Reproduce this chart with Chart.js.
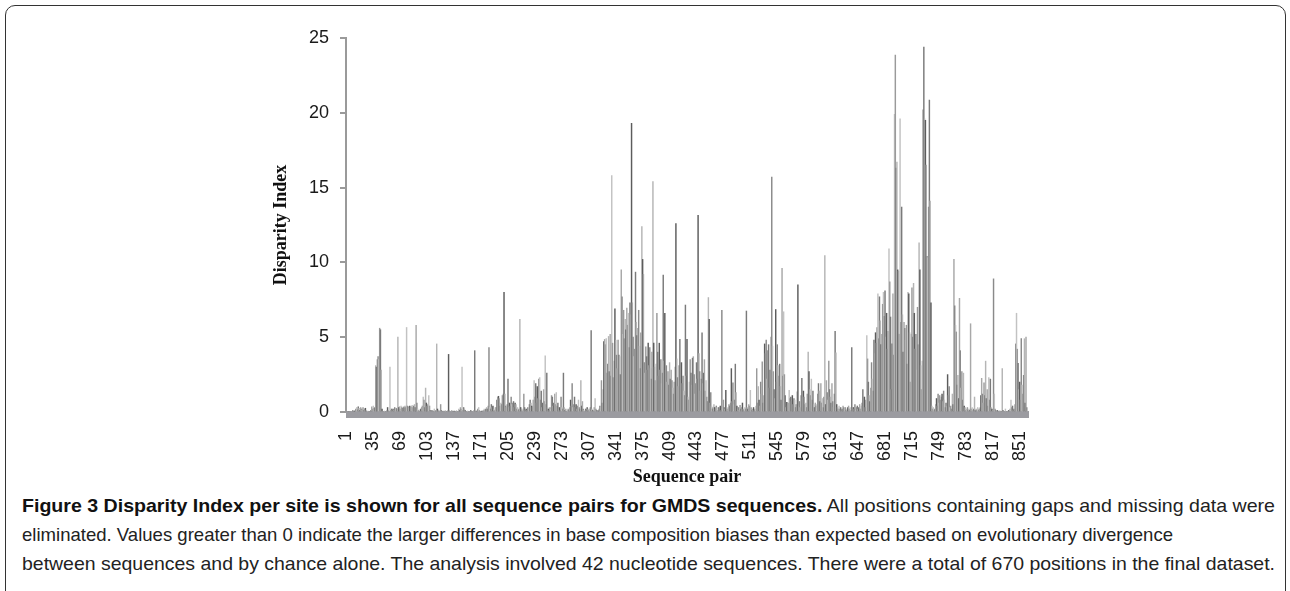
<!DOCTYPE html>
<html>
<head>
<meta charset="utf-8">
<script src="https://cdn.jsdelivr.net/npm/chart.js@4"></script>
<style>
  body { margin: 0; background: #fff; width: 1290px; height: 591px; overflow: hidden; position: relative; }
  #frame { position: absolute; left: 5px; top: 5px; width: 1279px; height: 640px; border: 1px solid #333; border-radius: 10px; }
  #wrap { position: absolute; left: 0; top: 0; width: 1290px; height: 490px; }
  .cap { position: absolute; left: 22px; white-space: nowrap; transform-origin: 0 0;
         font-family: "Liberation Sans Narrow", "Liberation Sans", Arial, sans-serif; font-size: 19px; color: #222; }
  .cap b { font-weight: bold; color: #111; }
</style>
</head>
<body>
<div id="frame"></div>
<div id="wrap"><canvas id="barChart" width="1290" height="490"></canvas></div>
<div class="cap" id="c1" data-w="1253" style="top:495px"><b>Figure 3 Disparity Index per site is shown for all sequence pairs for GMDS sequences.</b> All positions containing gaps and missing data were</div>
<div class="cap" id="c2" data-w="1151" style="top:524px">eliminated. Values greater than 0 indicate the larger differences in base composition biases than expected based on evolutionary divergence</div>
<div class="cap" id="c3" data-w="1253" style="top:553px">between sequences and by chance alone. The analysis involved 42 nucleotide sequences. There were a total of 670 positions in the final dataset.</div>
<script>
// disparity index, one value per sequence pair (1..861)
const disparity = [
  0, 0, 0, 0, 0, 0, 0, 0, 0.1, 0, 0.05, 0.1, 0.2, 0.3, 0.15, 0.35, 0.25, 0.1, 0.3, 0.2,
  0.15, 0.3, 0.1, 0.2, 0.25, 0.1, 0, 0.05, 0, 0, 0, 0.1, 0.35, 0.2, 0.4, 0.25, 0.3, 3.1, 3.0, 3.5,
  3.7, 3.5, 5.6, 5.5, 2.8, 0.2, 0, 0, 0.05, 0, 0, 0.1, 0.3, 0.1, 0, 3.0, 0.1, 0.2, 0.1, 0.2,
  0.15, 0.3, 0.1, 0.25, 0.2, 5.0, 0.3, 0.35, 0.2, 0.4, 0.3, 0.25, 0.35, 0.3, 0.4, 0.3, 5.65, 0.4, 0.35, 0.3,
  0.4, 0.3, 0.35, 0.45, 0.3, 0.4, 0.5, 0.3, 5.8, 0.6, 0.2, 0.1, 0, 0.15, 0.2, 0.3, 0.4, 1.0, 0.8, 0.3,
  1.6, 0.6, 0.4, 0.5, 1.1, 0.4, 0.1, 0, 0.1, 0, 0.05, 0.2, 0, 0.1, 4.55, 0.2, 0.1, 0, 0.1, 0.5,
  0.1, 0, 0, 0.05, 0, 0.1, 0, 0, 0.1, 3.85, 0.1, 0, 0, 0.1, 0, 0, 0.05, 0, 0, 0.1,
  0, 0, 0.2, 0.1, 0.3, 0.2, 3.0, 0.1, 0.3, 0.2, 0.1, 0, 0, 0.05, 0, 0, 0, 0.1, 0, 0,
  0, 0.1, 4.1, 0.1, 0, 0.1, 0.2, 0.3, 0.1, 0, 0, 0.05, 0, 0.1, 0.2, 0.1, 0.2, 0.3, 0.2, 0.4,
  4.3, 0.3, 0.2, 0.5, 0.3, 0.4, 0.2, 0.1, 0.3, 0.3, 0.8, 1.0, 1.05, 0.9, 0.4, 0.6, 0.5, 1.1, 1.2, 8.0,
  1.2, 0.4, 0.3, 0.5, 2.2, 0.3, 0.6, 0.4, 1.0, 0.5, 0.6, 0.7, 0.3, 0.6, 0.5, 0.2, 0.3, 0.1, 0.2, 6.2,
  0.3, 0.2, 0.1, 0.2, 1.2, 0.3, 0.1, 0.2, 0.1, 0.3, 0.2, 0.5, 0.8, 0.6, 0.4, 0.3, 0.8, 2.1, 1.0, 1.9,
  0.6, 1.7, 0.9, 2.2, 2.3, 0.8, 1.4, 0.3, 0.6, 1.5, 0.7, 3.75, 0.5, 2.6, 0.3, 0.2, 0.1, 0.3, 0.2, 1.1,
  1.0, 0.4, 0.6, 1.2, 0.5, 1.3, 0.4, 0.6, 0.2, 0.3, 0.1, 1.0, 0.3, 0.2, 2.6, 0.3, 0.1, 0.2, 0, 0.1,
  0.2, 0.1, 0.3, 0.8, 0.4, 1.9, 0.3, 0.5, 1.0, 0.3, 0.5, 0.2, 0.4, 0.8, 0.3, 0.2, 2.1, 0.4, 0.7, 0.2,
  0.1, 0, 0.2, 0.1, 0.3, 0.2, 0.1, 0.2, 0.3, 5.45, 0.2, 0.1, 0, 0.3, 0.9, 0.2, 0.1, 0, 0.1, 0.2,
  0.4, 0.3, 2.1, 0.6, 1.5, 4.7, 4.85, 4.5, 4.9, 2.6, 3.2, 5.05, 2.7, 5.2, 2.4, 15.8, 4.6, 2.3, 3.4, 6.9,
  4.8, 3.8, 2.9, 4.8, 3.8, 3.7, 2.5, 9.5, 7.7, 5.2, 6.8, 4.9, 6.2, 5.5, 6.95, 5.8, 6.6, 4.3, 7.3, 6.5,
  19.3, 7.3, 5.0, 3.7, 4.2, 9.35, 6.0, 5.1, 5.6, 6.8, 4.4, 2.9, 5.3, 12.4, 10.2, 9.2, 3.3, 2.6, 4.35, 3.7,
  2.8, 4.6, 3.1, 4.3, 2.9, 2.2, 4.0, 15.4, 4.6, 3.0, 2.1, 3.2, 6.6, 4.0, 2.4, 4.6, 2.8, 3.5, 1.9, 2.6,
  9.15, 3.4, 6.6, 2.8, 3.1, 2.0, 2.7, 1.8, 3.3, 2.2, 2.8, 2.1, 1.6, 1.2, 2.0, 3.0, 12.6, 3.55, 2.3, 1.7,
  3.1, 4.85, 2.1, 3.3, 1.9, 2.4, 1.4, 1.1, 7.15, 2.4, 4.85, 1.0, 0.8, 2.0, 3.5, 2.6, 1.8, 3.6, 3.7, 2.5,
  1.2, 1.9, 3.3, 2.2, 13.15, 3.9, 2.7, 1.4, 2.2, 5.3, 1.9, 2.6, 3.5, 1.4, 2.1, 1.0, 0.7, 7.65, 6.2, 0.6,
  1.3, 0.4, 0.2, 0.3, 0.5, 0.3, 0.2, 0.4, 0.3, 0.1, 0.3, 0.2, 0.4, 0.1, 6.8, 0.2, 0.8, 0.3, 0.2, 1.45,
  0.3, 0.2, 0.3, 0.5, 0.4, 0.6, 2.9, 0.7, 1.95, 0.5, 0.8, 3.2, 1.3, 0.4, 0.2, 0.3, 0.1, 0.45, 0.2, 0.3,
  0.6, 0.2, 0.1, 0.3, 0.2, 6.75, 0.3, 0.2, 0.5, 0.4, 1.45, 0.3, 0.1, 0.2, 0.3, 0.1, 0.2, 0.4, 2.9, 0.6,
  1.7, 0.8, 0.4, 2.0, 1.2, 3.35, 0.6, 1.1, 4.55, 3.9, 4.8, 2.2, 4.1, 4.5, 1.6, 2.8, 5.0, 15.7, 4.4, 2.7,
  1.5, 0.9, 6.85, 2.0, 4.5, 3.1, 2.4, 3.2, 1.7, 0.8, 9.6, 2.4, 6.7, 2.5, 1.1, 0.3, 0.65, 0.4, 0.6, 1.45,
  0.9, 1.0, 0.7, 1.1, 0.5, 0.9, 0.8, 0.3, 0.5, 1.35, 8.5, 0.4, 0.7, 0.3, 1.1, 2.25, 0.9, 1.4, 1.0, 0.5,
  0.6, 0.3, 1.2, 4.0, 2.7, 1.5, 1.1, 2.2, 0.8, 1.4, 0.5, 0.3, 0.6, 0.4, 0.5, 1.2, 1.9, 1.4, 0.7, 1.9,
  0.6, 0.9, 0.3, 1.0, 10.45, 0.5, 2.1, 1.3, 0.8, 3.4, 1.5, 1.0, 0.6, 1.9, 0.7, 0.3, 1.2, 5.4, 3.95, 0.5,
  0.3, 0.2, 0.4, 0.2, 0.3, 0.1, 0.2, 0.4, 0.3, 0.2, 0.3, 0.1, 0.2, 0.3, 0.4, 0.2, 0.3, 0.1, 4.3, 0.2,
  0.3, 0.2, 0.5, 0.1, 0.3, 0.4, 0.2, 0.3, 0.5, 0.2, 0.4, 0.6, 1.5, 0.4, 1.0, 0.3, 0.8, 5.1, 3.55, 2.0,
  1.1, 0.7, 1.6, 3.3, 2.2, 1.4, 4.8, 3.9, 5.3, 4.6, 5.65, 7.9, 4.9, 7.7, 6.1, 4.5, 5.2, 7.2, 8.0, 6.4,
  8.1, 5.0, 6.6, 4.2, 5.4, 10.9, 8.7, 6.35, 1.5, 4.55, 7.9, 3.8, 19.9, 23.85, 16.3, 16.7, 9.5, 9.4, 5.2, 19.6,
  6.0, 13.7, 6.5, 4.0, 6.0, 5.6, 4.8, 5.8, 3.2, 8.0, 7.9, 5.3, 2.0, 5.2, 8.3, 5.0, 8.6, 6.6, 4.2, 5.2,
  2.8, 7.0, 4.5, 11.3, 9.5, 3.1, 1.5, 3.4, 20.2, 24.4, 19.6, 19.5, 16.5, 10.4, 10.3, 13.7, 20.85, 14.1, 7.3, 0.4,
  0.2, 0.3, 0.1, 0.2, 0.5, 0.9, 0.4, 1.2, 0.6, 1.1, 0.8, 1.0, 1.2, 0.7, 1.4, 0.8, 0.3, 0.6, 0.4, 2.5,
  1.1, 1.7, 0.3, 0.4, 0.2, 1.2, 0.5, 10.2, 7.1, 5.8, 5.35, 1.8, 2.45, 0.9, 7.6, 4.1, 1.6, 2.7, 0.8, 2.6,
  0.4, 0.3, 0.1, 0.2, 0.3, 0.1, 0.2, 0.1, 5.9, 0.2, 0.3, 0.1, 0.2, 1.0, 0.1, 0.2, 0.1, 0.3, 0.1, 0.2,
  0.3, 1.1, 2.25, 1.2, 0.6, 1.95, 1.1, 3.4, 0.9, 1.5, 0.4, 2.3, 0.8, 2.2, 0.3, 0.2, 0.1, 8.9, 1.2, 0.2,
  0.1, 0, 0.1, 0, 0, 0.1, 0, 0, 2.9, 0.1, 0, 0, 0.2, 0, 0, 0, 0.1, 0, 0.2, 0.8,
  0.3, 0.4, 0.1, 0.2, 0.5, 4.55, 6.6, 4.2, 3.25, 1.5, 2.0, 0.8, 4.9, 1.8, 1.2, 2.45, 4.9, 0.6, 5.0, 0.3, 0.1
];
const categories = disparity.map((v, i) => String(i + 1));
const tickLabels = ['1', '35', '69', '103', '137', '171', '205', '239', '273', '307', '341', '375', '409',
  '443', '477', '511', '545', '579', '613', '647', '681', '715', '749', '783', '817', '851'];
const yTicks = [0, 5, 10, 15, 20, 25];

const shades = ['#9a9a9a', '#7a7a7a', '#b5b5b5', '#5c5c5c', '#a8a8a8', '#8a8a8a', '#c2c2c2'];

// thick grey strip under the zero line
const baseBand = {
  id: 'baseBand',
  beforeDatasetsDraw(chart) {
    const { ctx, chartArea } = chart;
    ctx.save();
    ctx.fillStyle = '#9b9ba0';
    ctx.fillRect(chartArea.left, chartArea.bottom - 1, chartArea.right - chartArea.left + 1, 7);
    ctx.restore();
  }
};

const ctx = document.getElementById('barChart').getContext('2d');
new Chart(ctx, {
  type: 'bar',
  data: {
    labels: categories,
    datasets: [{
      label: 'Disparity Index',
      data: disparity,
      backgroundColor: disparity.map((v, i) => shades[i % shades.length]),
      borderWidth: 0,
      barPercentage: 1,
      categoryPercentage: 1,
    }],
  },
  options: {
    responsive: false,
    animation: false,
    layout: { padding: { left: 267, right: 262, top: 38, bottom: 0 } },
    plugins: { legend: { display: false }, tooltip: { enabled: false } },
    scales: {
      x: {
        grid: { display: false },
        border: { display: false },
        ticks: {
          autoSkip: false,
          maxRotation: 90,
          minRotation: 90,
          padding: 11,
          color: '#1a1a1a',
          font: { family: 'Liberation Sans, Arial', size: 18 },
          callback: (val, idx) => tickLabels.includes(categories[idx]) ? categories[idx] : '',
        },
        title: {
          display: true,
          text: 'Sequence pair',
          color: '#111',
          padding: { top: 4, bottom: 2 },
          font: { family: 'Liberation Serif, Times New Roman', size: 18, weight: 'bold' },
        },
        afterFit(scale) { scale.height = 78; },
      },
      y: {
        min: 0,
        max: 25,
        afterBuildTicks(scale) { scale.ticks = yTicks.map(v => ({ value: v })); },
        grid: { drawOnChartArea: false, drawTicks: true, tickLength: 6, color: '#9a9a9a', lineWidth: 2 },
        border: { display: true, color: '#9a9a9a', width: 2 },
        ticks: {
          padding: 11,
          color: '#1a1a1a',
          font: { family: 'Liberation Sans, Arial', size: 18 },
        },
        title: {
          display: true,
          text: 'Disparity Index',
          color: '#111',
          font: { family: 'Liberation Serif, Times New Roman', size: 18, weight: 'bold' },
        },
        afterFit(scale) { scale.width = 79; },
      },
    },
  },
  plugins: [baseBand],
});

// squeeze caption lines to the reference widths
document.querySelectorAll('.cap').forEach(el => {
  const target = Number(el.dataset.w);
  const w = el.getBoundingClientRect().width;
  el.style.transform = 'scaleX(' + (target / w) + ')';
});
</script>
</body>
</html>
